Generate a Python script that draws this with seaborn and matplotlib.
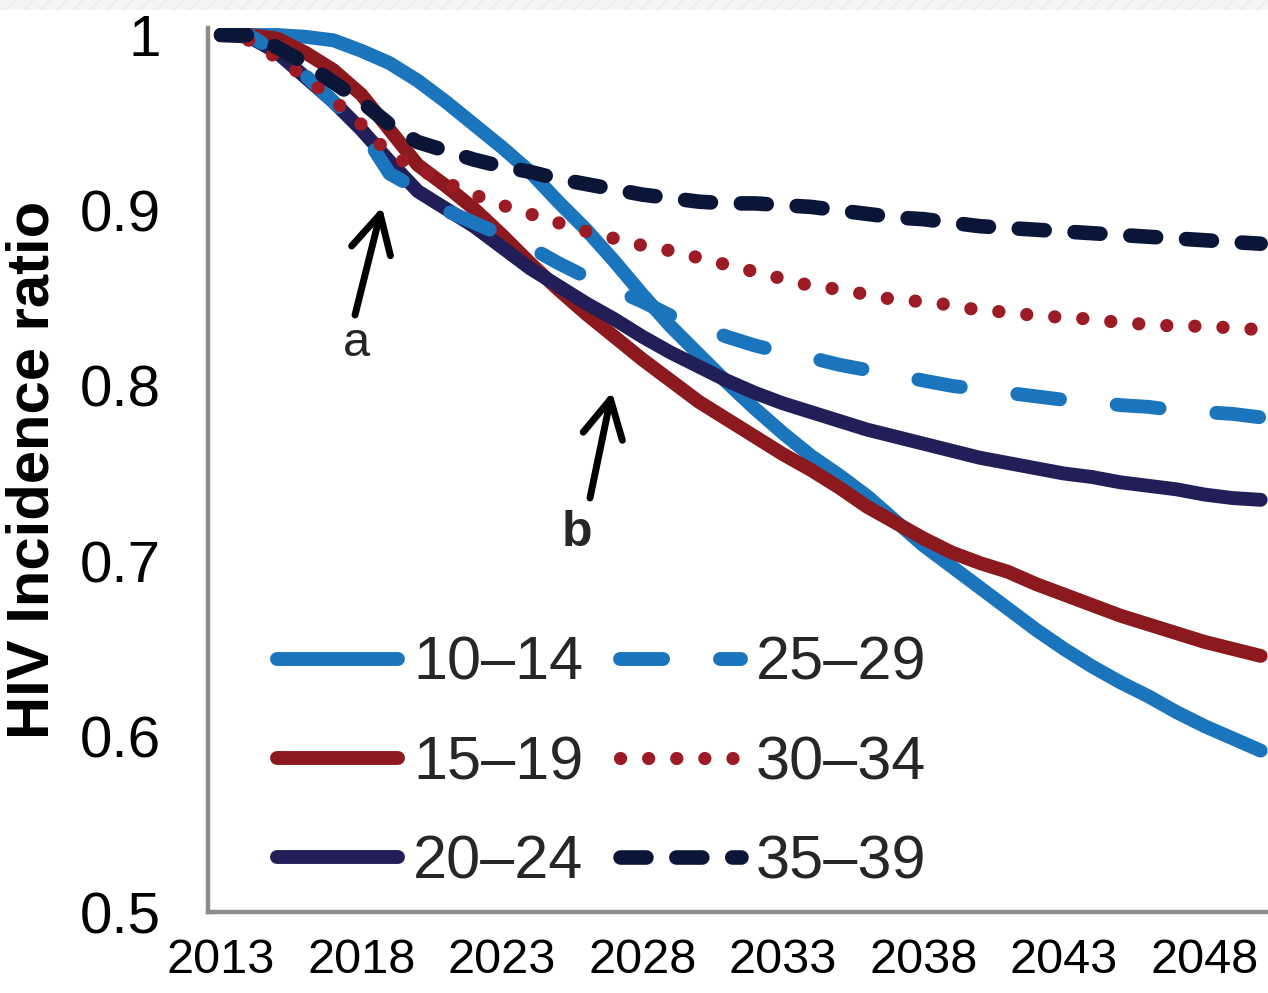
import matplotlib
matplotlib.use("Agg")
import matplotlib.pyplot as plt
import seaborn as sns
from matplotlib.patches import Rectangle

# ---------------- data ----------------
years = list(range(2013, 2051))

age_10_14 = [1.0, 1.0, 1.0, 0.999, 0.997, 0.991, 0.984, 0.974, 0.962, 0.949,
             0.936, 0.922, 0.905, 0.889, 0.871, 0.852, 0.834, 0.818, 0.802, 0.787,
             0.773, 0.760, 0.749, 0.737, 0.723, 0.709, 0.697, 0.685, 0.673, 0.661,
             0.650, 0.640, 0.631, 0.623, 0.614, 0.606, 0.599, 0.592]
age_15_19 = [1.0, 1.0, 0.998, 0.990, 0.980, 0.966, 0.946, 0.926, 0.914, 0.901,
             0.886, 0.870, 0.855, 0.841, 0.828, 0.815, 0.803, 0.791, 0.781, 0.771,
             0.761, 0.752, 0.742, 0.731, 0.722, 0.713, 0.705, 0.699, 0.694, 0.687,
             0.681, 0.675, 0.669, 0.664, 0.659, 0.654, 0.650, 0.646]
age_20_24 = [1.0, 0.999, 0.990, 0.976, 0.962, 0.946, 0.928, 0.911, 0.901, 0.891,
             0.879, 0.867, 0.857, 0.847, 0.838, 0.828, 0.819, 0.811, 0.803, 0.796,
             0.790, 0.785, 0.780, 0.775, 0.771, 0.767, 0.763, 0.759, 0.756, 0.753,
             0.750, 0.748, 0.745, 0.743, 0.741, 0.738, 0.736, 0.735]
age_25_29 = [1.0, 1.0, 0.990, 0.977, 0.962, 0.946, 0.921, 0.912, 0.900, 0.893,
             0.886, 0.879, 0.870, 0.862, 0.855, 0.848, 0.840, 0.834, 0.828, 0.823,
             0.819, 0.816, 0.812, 0.809, 0.806, 0.803, 0.800, 0.798, 0.796, 0.794,
             0.792, 0.791, 0.789, 0.788, 0.786, 0.785, 0.784, 0.782]
age_30_34 = [1.0, 0.997, 0.987, 0.976, 0.963, 0.949, 0.932, 0.924, 0.916, 0.909,
             0.903, 0.898, 0.893, 0.888, 0.884, 0.880, 0.877, 0.873, 0.869, 0.865,
             0.861, 0.857, 0.855, 0.852, 0.849, 0.848, 0.846, 0.843, 0.842, 0.840,
             0.839, 0.838, 0.836, 0.835, 0.834, 0.834, 0.833, 0.832]
age_35_39 = [1.0, 1.0, 0.993, 0.984, 0.973, 0.962, 0.949, 0.939, 0.934, 0.929,
             0.925, 0.922, 0.918, 0.915, 0.912, 0.909, 0.907, 0.905, 0.904, 0.904,
             0.903, 0.902, 0.900, 0.898, 0.896, 0.895, 0.893, 0.891, 0.890, 0.889,
             0.888, 0.887, 0.886, 0.885, 0.884, 0.883, 0.882, 0.881]

series_labels = ["10–14", "15–19", "20–24", "25–29", "30–34", "35–39"]
series_values = [age_10_14, age_15_19, age_20_24, age_25_29, age_30_34, age_35_39]

x_tick_years = [2013, 2018, 2023, 2028, 2033, 2038, 2043, 2048]
y_ticks = [0.5, 0.6, 0.7, 0.8, 0.9, 1.0]
y_tick_labels = ["0.5", "0.6", "0.7", "0.8", "0.9", "1"]

# ---------------- styles ----------------
styles = [
    dict(color="#1B75BC", linewidth=10.0, linestyle="-"),
    dict(color="#8B191E", linewidth=10.0, linestyle="-"),
    dict(color="#221E58", linewidth=10.0, linestyle="-"),
    dict(color="#1B75BC", linewidth=10.0, linestyle=(0, (3.1, 4.1))),
    dict(color="#9C1B24", linewidth=9.5, linestyle=(0, (0.01, 2.12))),
    dict(color="#0B1538", linewidth=10.5, linestyle=(0, (1.78, 2.05))),
]

sns.set_theme(style="white")
plt.rcParams["font.family"] = ["Liberation Sans", "DejaVu Sans"]

W, H = 1268, 993
fig = plt.figure(figsize=(W / 100, H / 100), dpi=100)
ax = fig.add_axes([208 / W, (H - 912) / H, (W - 208) / W, (912 - 28) / H])

for lab, vals, st in zip(series_labels, series_values, styles):
    sns.lineplot(x=years, y=vals, ax=ax, label=lab,
                 solid_capstyle="round", dash_capstyle="round", **st)

ax.set_xlim(2012.54, 2050.26)
ax.set_ylim(0.5, 1.004)

ax.set_xticks(x_tick_years)
ax.set_xticklabels([str(y) for y in x_tick_years])
ax.set_yticks(y_ticks)
ax.set_yticklabels(y_tick_labels)
ax.tick_params(axis="y", length=0, pad=34, labelsize=42, colors="black")
ax.tick_params(axis="x", length=0, pad=19, labelsize=35, colors="black")

for s in ["top", "right"]:
    ax.spines[s].set_visible(False)
for s in ["left", "bottom"]:
    ax.spines[s].set_color("#8c8c8c")
    ax.spines[s].set_linewidth(3.2)

ax.set_xlabel("")
ax.set_ylabel("HIV Incidence ratio", fontsize=43, fontweight="bold", color="black")
ax.yaxis.set_label_coords(-0.1396, 0.5)

handles, labels = ax.get_legend_handles_labels()
leg = ax.legend(handles, labels, ncol=2, loc="upper left",
                bbox_to_anchor=(277 / W, 1 - 636 / H), bbox_transform=fig.transFigure,
                frameon=False, fontsize=44, handlelength=1.98, handletextpad=0.25,
                columnspacing=0.59, labelspacing=0.69, borderpad=0, borderaxespad=0)

# annotation arrows
arrow_kw = dict(arrowstyle="->, head_length=0.68, head_width=0.36", lw=5.0,
                color="black", shrinkA=0, shrinkB=0, mutation_scale=40)
ax.annotate("", xy=(382, H - 207), xytext=(355, H - 315),
            xycoords="figure pixels", textcoords="figure pixels", arrowprops=arrow_kw)
ax.annotate("", xy=(612, H - 392), xytext=(590, H - 498),
            xycoords="figure pixels", textcoords="figure pixels", arrowprops=arrow_kw)
fig.text(356 / W, 1 - 343 / H, "a", fontsize=35, ha="center", va="center")
fig.text(577 / W, 1 - 533 / H, "b", fontsize=36, fontweight="bold", ha="center", va="center")

# faint strip at the very top
fig.patches.append(Rectangle((0, 1 - 10 / H), 1, 10 / H, transform=fig.transFigure,
                             facecolor="#f5f5f5", edgecolor="#ebebeb", linewidth=0,
                             hatch="//", zorder=0))

fig.savefig("out.png", dpi=100)
